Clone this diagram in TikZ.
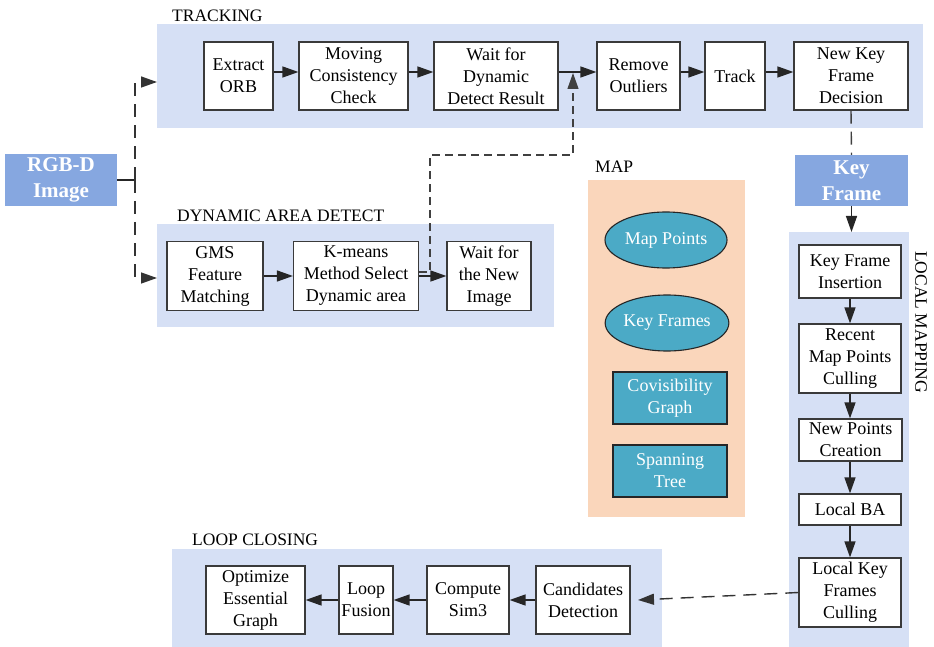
\documentclass[tikz,border=0pt]{standalone}
\usepackage{fontspec}
\setmainfont{Liberation Serif}
\newfontfamily\tnr{Liberation Serif}
\usetikzlibrary{arrows.meta,shapes.geometric}
\definecolor{grpblue}{HTML}{D6E0F5}
\definecolor{inblue}{HTML}{86A7E0}
\definecolor{mapbg}{HTML}{FAD6BB}
\definecolor{mapteal}{HTML}{4BAAC6}
\definecolor{edge}{HTML}{3A3A3A}
\tikzset{
  proc/.style={draw=edge, line width=1.2pt, fill=white, align=center, inner sep=0pt,
    font=\tnr\fontsize{18}{22}\selectfont},
  grpbg/.style={fill=grpblue, draw=none, inner sep=0pt, anchor=north west},
  mapgrp/.style={fill=mapbg, draw=none, inner sep=0pt, anchor=north west},
  inbox/.style={fill=inblue, draw=none, text=white, align=center, inner sep=0pt,
    font=\tnr\fontsize{21}{26}\selectfont\bfseries},
  mapell/.style={ellipse, draw=black!85, line width=1.1pt, fill=mapteal, text=white, inner sep=0pt,
    font=\tnr\fontsize{18}{22}\selectfont},
  mapbox/.style={draw=black!85, line width=1.1pt, fill=mapteal, text=white, align=center, inner sep=0pt,
    font=\tnr\fontsize{18}{22}\selectfont},
  grplabel/.style={anchor=west, inner sep=0pt, font=\tnr\fontsize{17.5}{22}\selectfont},
  arr/.style={draw=black!85, line width=1.4pt, -{Triangle[length=16pt,width=11pt]}},
  dasharr/.style={draw=black!80, line width=1.4pt, dash pattern=on 13pt off 8pt, -{Triangle[length=16pt,width=11pt]}},
  finedash/.style={draw=black!75, line width=1.2pt, dash pattern=on 8pt off 5pt, -{Triangle[length=16pt,width=11pt]}},
}
\begin{document}
\begin{tikzpicture}[x=1pt,y=-1pt]
\useasboundingbox (0,0) rectangle (934,647);

% group backgrounds
\node[grpbg, minimum width=766pt, minimum height=104pt] (trk) at (157,24) {};
\node[grpbg, minimum width=397pt, minimum height=103pt] (dyn) at (157,224) {};
\node[mapgrp, minimum width=157pt, minimum height=337pt] (map) at (588,180) {};
\node[grpbg, minimum width=120pt, minimum height=415pt] (lm) at (789,232) {};
\node[grpbg, minimum width=490pt, minimum height=98pt] (lc) at (172,549) {};

% group labels
\node[grplabel] (trklab) at (172,16) {TRACKING};
\node[grplabel] (dynlab) at (177,216) {DYNAMIC AREA DETECT};
\node[grplabel] (maplab) at (595,167) {MAP};
\node[grplabel] (lclab) at (192,540) {LOOP CLOSING};
\node[inner sep=0pt, rotate=-90, font=\tnr\fontsize{17.5}{22}\selectfont] (lmlab) at (921,322) {LOCAL MAPPING};

% inputs
\node[inbox, minimum width=112pt, minimum height=52pt] (rgbd) at (61,180) {RGB-D\\Image};
\node[inbox, minimum width=113pt, minimum height=51pt] (kf) at (851.5,180.5) {Key\\Frame};

% tracking
\node[proc, minimum width=69pt, minimum height=68pt] (extract) at (238.5,76) {Extract\\ORB};
\node[proc, minimum width=109pt, minimum height=68pt] (moving) at (353.5,76) {Moving\\Consistency\\Check};
\node[proc, minimum width=124pt, minimum height=68pt] (waitdyn) at (496,76) {Wait for\\Dynamic\\Detect Result};
\node[proc, minimum width=83pt, minimum height=68pt] (remove) at (638.5,76) {Remove\\Outliers};
\node[proc, minimum width=60pt, minimum height=68pt] (track) at (735,76) {Track};
\node[proc, minimum width=114pt, minimum height=68pt] (newkf) at (851,76) {New Key\\Frame\\Decision};

% dynamic area detect
\node[proc, minimum width=96pt, minimum height=69pt] (gms) at (215,276) {GMS\\Feature\\Matching};
\node[proc, minimum width=125pt, minimum height=69pt] (kmeans) at (356,276) {K-means\\Method Select\\Dynamic area};
\node[proc, minimum width=84pt, minimum height=69pt] (waitnew) at (489,276) {Wait for\\the New\\Image};

% map
\node[mapell, minimum width=122pt, minimum height=56pt] (mp) at (666,240) {Map Points};
\node[mapell, minimum width=122pt, minimum height=56pt] (kfs) at (667,323) {Key Frames};
\node[mapbox, minimum width=114pt, minimum height=52pt] (cov) at (670,398) {Covisibility\\Graph};
\node[mapbox, minimum width=114pt, minimum height=52pt] (span) at (670,471) {Spanning\\Tree};

% local mapping
\node[proc, minimum width=102pt, minimum height=53pt] (kfi) at (850,271.5) {Key Frame\\Insertion};
\node[proc, minimum width=102pt, minimum height=69pt] (rmp) at (850,358.5) {Recent\\Map Points\\Culling};
\node[proc, minimum width=103pt, minimum height=42pt] (npc) at (850.5,440) {New Points\\Creation};
\node[proc, minimum width=102pt, minimum height=31pt] (lba) at (850,509.5) {Local BA};
\node[proc, minimum width=102pt, minimum height=69pt] (lkf) at (850,592.5) {Local Key\\Frames\\Culling};

% loop closing
\node[proc, minimum width=99pt, minimum height=68pt] (opt) at (255.5,600) {Optimize\\Essential\\Graph};
\node[proc, minimum width=54pt, minimum height=68pt] (fusion) at (366,600) {Loop\\Fusion};
\node[proc, minimum width=82pt, minimum height=68pt] (sim3) at (468,600) {Compute\\Sim3};
\node[proc, minimum width=94pt, minimum height=68pt] (cand) at (583,600) {Candidates\\Detection};

% helper coordinates
\coordinate (ty) at (0,72);
\coordinate (split) at (135,180);
\coordinate (tin) at (0,82);
\coordinate (din) at (0,278);
\coordinate (kmy) at (0,272);
\coordinate (kmx) at (430,272);
\coordinate (kmt) at (430,155);
\coordinate (mrg) at (573,155);
\coordinate (mrgtip) at (573,73);
\coordinate (lctip) at (638,600);

% tracking arrows
\draw[arr] (extract.east |- ty) -- (moving.west |- ty);
\draw[arr] (moving.east |- ty) -- (waitdyn.west |- ty);
\draw[arr] (waitdyn.east |- ty) -- (remove.west |- ty);
\draw[arr] (remove.east |- ty) -- (track.west |- ty);
\draw[arr] (track.east |- ty) -- (newkf.west |- ty);

% input split
\draw[draw=black!85, line width=1.4pt] (rgbd.east) -- (split);
\draw[dasharr] (split) -- (split |- tin) -- (trk.west |- tin);
\draw[dasharr] (split) -- (split |- din) -- (dyn.west |- din);

% dynamic arrows
\draw[arr] (gms) -- (kmeans);
\draw[arr] (kmeans) -- (waitnew);
\draw[finedash] (kmeans.east |- kmy) -- (kmx) -- (kmt) -- (mrg) -- (mrgtip);

% key frame
\draw[draw=black!75, line width=1.4pt, dash pattern=on 13pt off 8pt] (newkf.south) -- (kf.north);
\draw[arr] (kf.south) -- (lm.north -| kf.south);

% local mapping arrows
\draw[arr] (kfi) -- (rmp);
\draw[arr] (rmp) -- (npc.north -| rmp.south);
\draw[arr] (npc.south -| rmp.south) -- (lba.north -| rmp.south);
\draw[arr] (lba) -- (lkf);

% to loop closing
\draw[dasharr] (lkf.west) -- (lctip);
\draw[arr] (cand) -- (sim3);
\draw[arr] (sim3) -- (fusion);
\draw[arr] (fusion) -- (opt);
\end{tikzpicture}
\end{document}
